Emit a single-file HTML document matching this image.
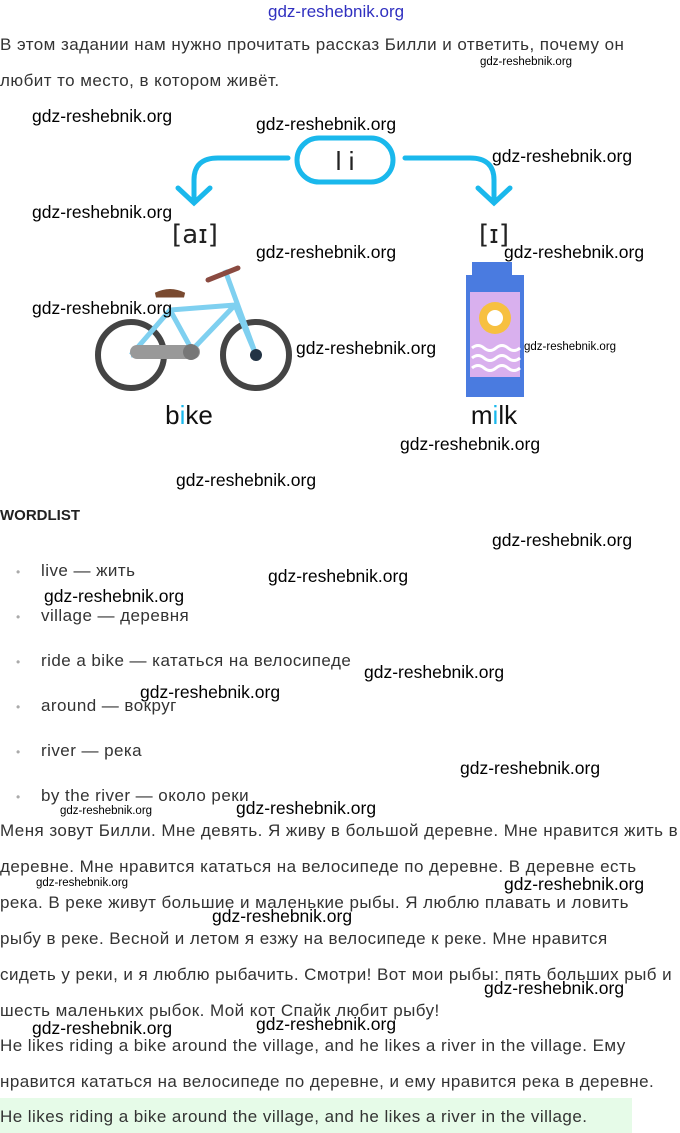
<!DOCTYPE html>
<html><head><meta charset="utf-8"><style>
body{margin:0;width:680px;height:1133px;position:relative;background:#fff;font-family:"Liberation Sans","DejaVu Sans",sans-serif;color:#333;overflow:hidden}
.t{position:absolute;left:0;font-size:17px;letter-spacing:0.45px;white-space:nowrap;line-height:20px}
.w{position:absolute;font-size:17.5px;color:#000;white-space:nowrap;line-height:20px}
.ws{position:absolute;font-size:11.5px;color:#000;white-space:nowrap;line-height:14px}
.li{position:absolute;left:18px;font-size:17px;letter-spacing:0.45px;white-space:nowrap;line-height:20px}
.li:before{content:"•";color:#aaa;font-size:12px;position:absolute;left:-2px;top:1px}
.li span{margin-left:23px}
</style></head><body>
<div style="position:absolute;left:268px;top:2px;font-size:17px;color:#3030c0">gdz-reshebnik.org</div>
<div class="t" style="top:35px">В этом задании нам нужно прочитать рассказ Билли и ответить, почему он</div>
<div class="t" style="top:71px">любит то место, в котором живёт.</div>
<div class="ws" style="left:480px;top:55px">gdz-reshebnik.org</div>

<svg style="position:absolute;left:0;top:0" width="680" height="480">
<rect x="297" y="138" width="96" height="44" rx="22" fill="none" stroke="#1ab8ec" stroke-width="5"/>
<path d="M288 158 H218 Q194 158 194 180 V202 M178 188 L194 203 L210 188" fill="none" stroke="#1ab8ec" stroke-width="5" stroke-linecap="round"/>
<path d="M405 158 H470 Q494 158 494 180 V202 M478 188 L494 203 L510 188" fill="none" stroke="#1ab8ec" stroke-width="5" stroke-linecap="round"/>
<text x="345" y="170" font-size="26" text-anchor="middle" fill="#222" font-family="Liberation Sans">l i</text>
<text x="195" y="243" font-size="26" text-anchor="middle" fill="#222" font-family="DejaVu Sans">[aɪ]</text>
<text x="494" y="243" font-size="26" text-anchor="middle" fill="#222" font-family="DejaVu Sans">[ɪ]</text>
<circle cx="131" cy="355" r="33" fill="none" stroke="#444" stroke-width="6"/>
<circle cx="256" cy="355" r="33" fill="none" stroke="#444" stroke-width="6"/>
<path d="M131 355 L170 310 L235 305 L256 355 M170 310 L192 350 L235 305 M131 355 L192 350 M225 270 L256 355" fill="none" stroke="#7fd0f0" stroke-width="5"/>
<rect x="130" y="345" width="70" height="14" rx="7" fill="#999"/>
<circle cx="191" cy="352" r="8" fill="#777"/>
<path d="M156 295 Q170 288 184 295 Z" fill="#7a4a30" stroke="#7a4a30" stroke-width="5"/>
<path d="M208 280 L238 268" stroke="#8a4a40" stroke-width="5" stroke-linecap="round"/>
<circle cx="256" cy="355" r="6" fill="#234"/>
<rect x="472" y="262" width="40" height="16" fill="#4a7be0"/>
<rect x="466" y="275" width="58" height="122" fill="#4a7be0"/>
<rect x="470" y="292" width="50" height="85" fill="#d9b0ee"/>
<circle cx="495" cy="318" r="16" fill="#f7c040"/>
<circle cx="495" cy="318" r="8" fill="#fff"/>
<path d="M472 348 q6 -5 12 0 t12 0 t12 0 t12 0 M472 358 q6 -5 12 0 t12 0 t12 0 t12 0 M472 368 q6 -5 12 0 t12 0 t12 0 t12 0" fill="none" stroke="#fff" stroke-width="3"/>
<text x="189" y="424" font-size="26" text-anchor="middle" fill="#111" font-family="Liberation Sans">b<tspan fill="#1ab8ec">i</tspan>ke</text>
<text x="494" y="424" font-size="26" text-anchor="middle" fill="#111" font-family="Liberation Sans">m<tspan fill="#1ab8ec">i</tspan>lk</text>
</svg>

<div class="w" style="left:32px;top:106px">gdz-reshebnik.org</div>
<div class="w" style="left:256px;top:114px">gdz-reshebnik.org</div>
<div class="w" style="left:492px;top:146px">gdz-reshebnik.org</div>
<div class="w" style="left:32px;top:202px">gdz-reshebnik.org</div>
<div class="w" style="left:256px;top:242px">gdz-reshebnik.org</div>
<div class="w" style="left:504px;top:242px">gdz-reshebnik.org</div>
<div class="w" style="left:32px;top:298px">gdz-reshebnik.org</div>
<div class="w" style="left:296px;top:338px">gdz-reshebnik.org</div>
<div class="ws" style="left:524px;top:340px">gdz-reshebnik.org</div>
<div class="w" style="left:400px;top:434px">gdz-reshebnik.org</div>
<div class="w" style="left:176px;top:470px">gdz-reshebnik.org</div>

<div style="position:absolute;left:0;top:507px;font-size:15px;font-weight:bold;color:#222">WORDLIST</div>
<div class="w" style="left:492px;top:530px">gdz-reshebnik.org</div>
<div class="li" style="top:561px"><span>live — жить</span></div>
<div class="w" style="left:268px;top:566px">gdz-reshebnik.org</div>
<div class="w" style="left:44px;top:586px">gdz-reshebnik.org</div>
<div class="li" style="top:606px"><span>village — деревня</span></div>
<div class="li" style="top:651px"><span>ride a bike — кататься на велосипеде</span></div>
<div class="w" style="left:364px;top:662px">gdz-reshebnik.org</div>
<div class="w" style="left:140px;top:682px">gdz-reshebnik.org</div>
<div class="li" style="top:696px"><span>around — вокруг</span></div>
<div class="li" style="top:741px"><span>river — река</span></div>
<div class="w" style="left:460px;top:758px">gdz-reshebnik.org</div>
<div class="li" style="top:786px"><span>by the river — около реки</span></div>
<div class="ws" style="left:60px;top:804px">gdz-reshebnik.org</div>
<div class="w" style="left:236px;top:798px">gdz-reshebnik.org</div>

<div class="t" style="top:821px">Меня зовут Билли. Мне девять. Я живу в большой деревне. Мне нравится жить в</div>
<div class="t" style="top:857px">деревне. Мне нравится кататься на велосипеде по деревне. В деревне есть</div>
<div class="ws" style="left:36px;top:876px">gdz-reshebnik.org</div>
<div class="w" style="left:504px;top:874px">gdz-reshebnik.org</div>
<div class="t" style="top:893px">река. В реке живут большие и маленькие рыбы. Я люблю плавать и ловить</div>
<div class="w" style="left:212px;top:906px">gdz-reshebnik.org</div>
<div class="t" style="top:929px">рыбу в реке. Весной и летом я езжу на велосипеде к реке. Мне нравится</div>
<div class="t" style="top:965px">сидеть у реки, и я люблю рыбачить. Смотри! Вот мои рыбы: пять больших рыб и</div>
<div class="w" style="left:484px;top:978px">gdz-reshebnik.org</div>
<div class="t" style="top:1001px">шесть маленьких рыбок. Мой кот Спайк любит рыбу!</div>
<div class="w" style="left:32px;top:1018px">gdz-reshebnik.org</div>
<div class="w" style="left:256px;top:1014px">gdz-reshebnik.org</div>
<div class="t" style="top:1036px">He likes riding a bike around the village, and he likes a river in the village. Ему</div>
<div class="t" style="top:1072px">нравится кататься на велосипеде по деревне, и ему нравится река в деревне.</div>
<div style="position:absolute;left:0;top:1098px;width:632px;height:35px;background:#e6fbe8"></div>
<div class="t" style="top:1107px">He likes riding a bike around the village, and he likes a river in the village.</div>
</body></html>
